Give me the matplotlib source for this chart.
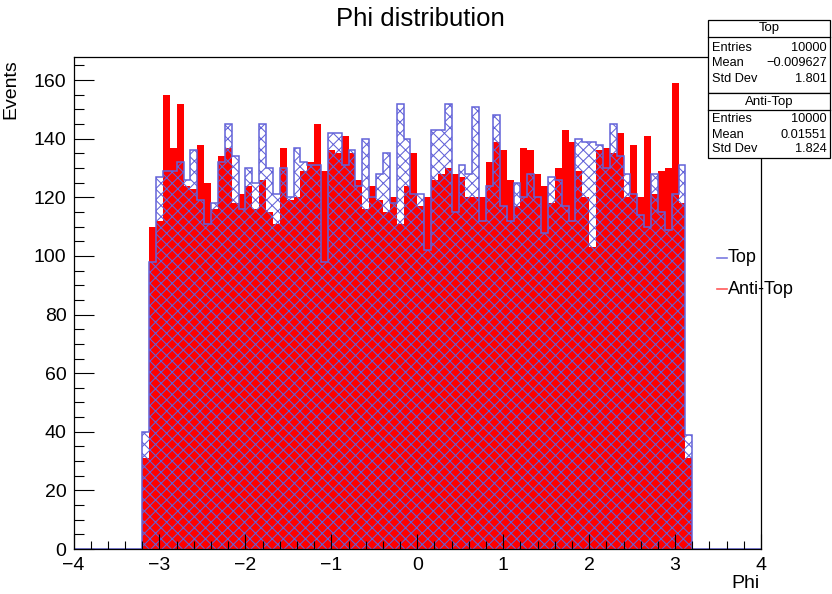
import numpy as np
import matplotlib
matplotlib.use("Agg")
import matplotlib.pyplot as plt
from matplotlib.patches import Rectangle
from matplotlib.lines import Line2D
from matplotlib.ticker import MultipleLocator

plt.rcParams['font.family'] = ['Liberation Sans', 'DejaVu Sans']
plt.rcParams['hatch.linewidth'] = 0.75

# ---- data (counts per bin, bins of width 0.08 from -3.2 to 3.2) ----
top_counts = [40, 98, 127, 129, 129, 132, 126, 136, 119, 111,
              118, 132, 145, 134, 116, 130, 125, 145, 130, 121,
              130, 120, 137, 132, 131, 131, 98, 142, 142, 131,
              136, 124, 140, 120, 128, 135, 118, 152, 140, 121,
              121, 102, 143, 143, 152, 115, 131, 128, 151, 112,
              124, 148, 117, 112, 125, 120, 128, 120, 108, 127,
              126, 117, 112, 140, 139, 139, 138, 130, 145, 134,
              128, 121, 114, 110, 128, 115, 109, 121, 131, 39]
antitop_counts = [31, 110, 112, 155, 137, 152, 124, 123, 138, 125,
                  116, 134, 137, 118, 121, 124, 116, 126, 115, 111,
                  137, 119, 120, 129, 132, 145, 129, 136, 135, 141,
                  135, 126, 116, 124, 119, 115, 120, 111, 124, 135,
                  117, 120, 126, 128, 130, 128, 127, 120, 120, 120,
                  132, 139, 136, 126, 117, 137, 136, 128, 124, 118,
                  130, 143, 139, 129, 120, 103, 136, 137, 135, 142,
                  120, 138, 120, 141, 121, 129, 130, 159, 118, 31]
x_ticks = [-4, -3, -2, -1, 0, 1, 2, 3, 4]
y_ticks = [0, 20, 40, 60, 80, 100, 120, 140, 160]
stats_top = [("Entries", "10000"), ("Mean", "\u22120.009627"), ("Std Dev", "1.801")]
stats_anti = [("Entries", "10000"), ("Mean", "0.01551"), ("Std Dev", "1.824")]

# histogram booking: 100 bins from -4 to 4
edges = np.linspace(-4, 4, 101)
first = int(round((-3.2 - (-4)) / 0.08))
top_full = np.zeros(100)
anti_full = np.zeros(100)
top_full[first:first + len(top_counts)] = top_counts
anti_full[first:first + len(antitop_counts)] = antitop_counts

W, H = 832, 594
fig = plt.figure(figsize=(W / 100, H / 100), dpi=100)
ax = fig.add_axes([73.5 / W, 1 - 549 / H, (761 - 73.5) / W, (549 - 57) / H])

blue = '#6262d8'
ax.stairs(anti_full, edges, fill=True, color='#ff0000', linewidth=0, zorder=1)
ax.stairs(top_full, edges, fill=True, facecolor='none', edgecolor=blue,
          hatch='xxx', linewidth=0, zorder=1.2)
ax.stairs(top_full, edges, color=blue, linewidth=1.1, zorder=1.4)

ax.set_xlim(-4, 4)
ax.set_ylim(0, 167.9)
ax.set_xticks(x_ticks)
ax.set_yticks(y_ticks)
ax.xaxis.set_minor_locator(MultipleLocator(0.2))
ax.yaxis.set_minor_locator(MultipleLocator(5))
ax.tick_params(axis='both', which='both', direction='in', top=False, right=False,
               labelsize=14, width=0.8, color='black')
ax.tick_params(axis='x', which='major', length=11, pad=6)
ax.tick_params(axis='x', which='minor', length=5.5)
ax.tick_params(axis='y', which='major', length=14.5, pad=5)
ax.tick_params(axis='y', which='minor', length=7.5)
for s in ax.spines.values():
    s.set_linewidth(0.9)

fig.text(420 / W, 1 - 19 / H, 'Phi distribution', ha='center', va='center', fontsize=18.5)
fig.text(11 / W, 1 - 59 / H, 'Events', rotation=90, ha='center', va='top', fontsize=14)
fig.text(760 / W, 1 - 583 / H, 'Phi', ha='right', va='center', fontsize=14)

# legend (no box)
for yy, label, col in [(258, 'Top', '#7a7ae0'), (289, 'Anti-Top', '#ff5a5a')]:
    fig.add_artist(Line2D([717 / W, 727 / W], [1 - yy / H, 1 - yy / H], color=col,
                          linewidth=1.2, transform=fig.transFigure))
    fig.text(728 / W, 1 - yy / H, label, ha='left', va='center', fontsize=13)

# stats boxes
def stats_box(y0, y1, ydiv, title, rows, rows_y):
    x0, x1 = 708, 830
    fig.add_artist(Rectangle((x0 / W, 1 - y1 / H), (x1 - x0) / W, (y1 - y0) / H,
                             transform=fig.transFigure, facecolor='white',
                             edgecolor='black', linewidth=0.9, zorder=5))
    fig.add_artist(Line2D([x0 / W, x1 / W], [1 - ydiv / H, 1 - ydiv / H], color='black',
                          linewidth=0.9, transform=fig.transFigure, zorder=6))
    fig.text((x0 + x1) / 2 / W, 1 - (y0 + ydiv) / 2 / H, title, ha='center', va='center',
             fontsize=9.5, zorder=7)
    for (k, v), yy in zip(rows, rows_y):
        fig.text((x0 + 4) / W, 1 - yy / H, k, ha='left', va='center', fontsize=9.2, zorder=7)
        fig.text((x1 - 3) / W, 1 - yy / H, v, ha='right', va='center', fontsize=9.2, zorder=7)

stats_box(20, 93, 37, 'Top', stats_top, [48, 63.5, 79])
stats_box(93, 158, 110, 'Anti-Top', stats_anti, [119.5, 134.5, 149.5])

fig.savefig('out.png', dpi=100)
